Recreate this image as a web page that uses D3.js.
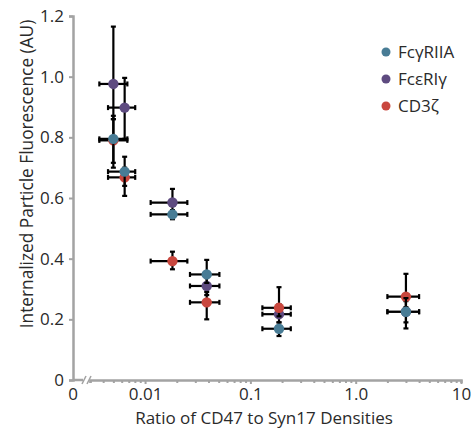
<!DOCTYPE html>
<html>
<head>
<meta charset="utf-8">
<script src="https://cdn.jsdelivr.net/npm/d3@7"></script>
<style>
  body { margin: 0; background: #fff; }
  text { font-family: "Open Sans", sans-serif; fill: #2a2a2a; }
</style>
</head>
<body>
<svg id="drawspace" width="471" height="429"></svg>
<script>
// ratio of CD47 to Syn17 (same groups for every receptor)
const ratio   = [0.005, 0.0064, 0.0182, 0.0385, 0.187, 3.0];
const ratioLo = [0.00368, 0.00445, 0.0113, 0.0267, 0.130, 2.0];
const ratioHi = [0.00679, 0.00806, 0.0252, 0.0508, 0.242, 4.0];

const fcgrVals = [0.795, 0.687, 0.546, 0.348, 0.169, 0.225];
const fcgrLo   = [0.716, 0.640, 0.530, 0.320, 0.145, 0.170];
const fcgrHi   = [0.871, 0.736, 0.560, 0.396, 0.190, 0.270];

const fcerVals = [0.976, 0.898, 0.585, 0.310, 0.217, 0.225];
const fcerLo   = [0.860, 0.795, 0.550, 0.280, 0.190, 0.190];
const fcerHi   = [1.165, 0.996, 0.630, 0.340, 0.250, 0.260];

const cd3Vals = [0.790, 0.668, 0.392, 0.256, 0.238, 0.275];
const cd3Lo   = [0.700, 0.607, 0.365, 0.200, 0.210, 0.240];
const cd3Hi   = [0.860, 0.700, 0.423, 0.290, 0.306, 0.350];

const seriesNames = ["FcγRIIA", "FcεRIγ", "CD3ζ"];
const xTickVals = [0.01, 0.1, 1, 10];
const xTickLabels = ["0.01", "0.1", "1.0", "10"];
const yTickVals = [0, 0.2, 0.4, 0.6, 0.8, 1.0, 1.2];

const colors = {"FcγRIIA": "#487c95", "FcεRIγ": "#5e4b80", "CD3ζ": "#c9473e"};

let ds = d3.select("#drawspace");
let axisCol = "#a3a3a3";

let xscale = d3.scaleLog().domain([0.003, 10]).range([90, 461]);
let yscale = d3.scaleLinear().domain([0, 1.2]).range([380, 16]);
let x0 = 73;

// y axis
let yAxis = ds.append("g").attr("transform", "translate(" + x0 + ",0)")
  .call(d3.axisLeft(yscale).tickValues(yTickVals).tickSize(4)
    .tickFormat(d => d === 0 ? "0" : d3.format(".1f")(d)));
yAxis.select(".domain").attr("stroke", axisCol).attr("stroke-width", 2.5);
yAxis.selectAll(".tick line").attr("stroke", axisCol).attr("stroke-width", 2);
yAxis.selectAll(".tick text").attr("x", -9).style("font-size", "17px")
  .style("font-family", "Open Sans").attr("fill", "#2a2a2a");

// x axis (log part, after the break)
let minor = xscale.ticks().filter(d => xTickVals.indexOf(d) < 0);
let xMinor = ds.append("g").attr("transform", "translate(0,380)")
  .call(d3.axisBottom(xscale).tickValues(minor).tickSize(3).tickFormat(""));
xMinor.select(".domain").attr("stroke", axisCol).attr("stroke-width", 2.5);
xMinor.selectAll(".tick line").attr("stroke", axisCol).attr("stroke-width", 2);

let xMajor = ds.append("g").attr("transform", "translate(0,380)")
  .call(d3.axisBottom(xscale).tickValues(xTickVals).tickSize(4)
    .tickFormat((d, i) => xTickLabels[i]));
xMajor.select(".domain").remove();
xMajor.selectAll(".tick line").attr("stroke", axisCol).attr("stroke-width", 2);
xMajor.selectAll(".tick text").attr("y", 8).style("font-size", "17px")
  .style("font-family", "Open Sans").attr("fill", "#2a2a2a");

// short piece from the origin to the break, plus the break marks
ds.append("line").attr("x1", x0).attr("x2", 83).attr("y1", 380).attr("y2", 380)
  .attr("stroke", axisCol).attr("stroke-width", 2.5);
[84, 89].forEach(bx => {
  ds.append("line").attr("x1", bx - 2).attr("x2", bx + 2).attr("y1", 384).attr("y2", 376)
    .attr("stroke", axisCol).attr("stroke-width", 1.5);
});
ds.append("text").attr("x", x0).attr("y", 400).attr("text-anchor", "middle")
  .style("font-size", "17px").text("0");

// axis titles
ds.append("text").attr("x", 264).attr("y", 424).attr("text-anchor", "middle")
  .style("font-size", "17px").text("Ratio of CD47 to Syn17 Densities");
ds.append("text").attr("transform", "translate(33,174) rotate(-90)")
  .attr("text-anchor", "middle").style("font-size", "17.3px")
  .text("Internalized Particle Fluorescence (AU)");

// build rows
function rows(name, vals, lo, hi) {
  return vals.map((v, i) => ({name: name, x: ratio[i], xlo: ratioLo[i], xhi: ratioHi[i],
    y: v, ylo: lo[i], yhi: hi[i]}));
}
// drawing order: purple, red, blue on top
let allSeries = [
  rows("FcεRIγ", fcerVals, fcerLo, fcerHi),
  rows("CD3ζ", cd3Vals, cd3Lo, cd3Hi),
  rows("FcγRIIA", fcgrVals, fcgrLo, fcgrHi)
];

let cap = 2.5;
allSeries.forEach(myData => {
  let g = ds.append("g");
  let eb = g.append("g").attr("stroke", "#000").attr("stroke-width", 2.2);
  myData.forEach(d => {
    let cx = xscale(d.x), cy = yscale(d.y);
    eb.append("line").attr("x1", cx).attr("x2", cx).attr("y1", yscale(d.ylo)).attr("y2", yscale(d.yhi));
    eb.append("line").attr("x1", xscale(d.xlo)).attr("x2", xscale(d.xhi)).attr("y1", cy).attr("y2", cy);
    [d.ylo, d.yhi].forEach(v => eb.append("line").attr("x1", cx - cap).attr("x2", cx + cap)
      .attr("y1", yscale(v)).attr("y2", yscale(v)));
    [d.xlo, d.xhi].forEach(v => eb.append("line").attr("x1", xscale(v)).attr("x2", xscale(v))
      .attr("y1", cy - cap).attr("y2", cy + cap));
  });
  g.selectAll("circle").data(myData).enter().append("circle")
    .attr("cx", d => xscale(d.x))
    .attr("cy", d => yscale(d.y))
    .attr("r", 5.2)
    .attr("fill", d => colors[d.name]);
});

// legend
seriesNames.forEach((s, i) => {
  let lg = ds.append("g").attr("transform", "translate(386," + (52 + i * 27) + ")");
  lg.append("circle").attr("r", 4.5).attr("fill", colors[s]);
  lg.append("text").attr("x", 12).attr("y", 6).style("font-size", "17px").text(s);
});
</script>
</body>
</html>
